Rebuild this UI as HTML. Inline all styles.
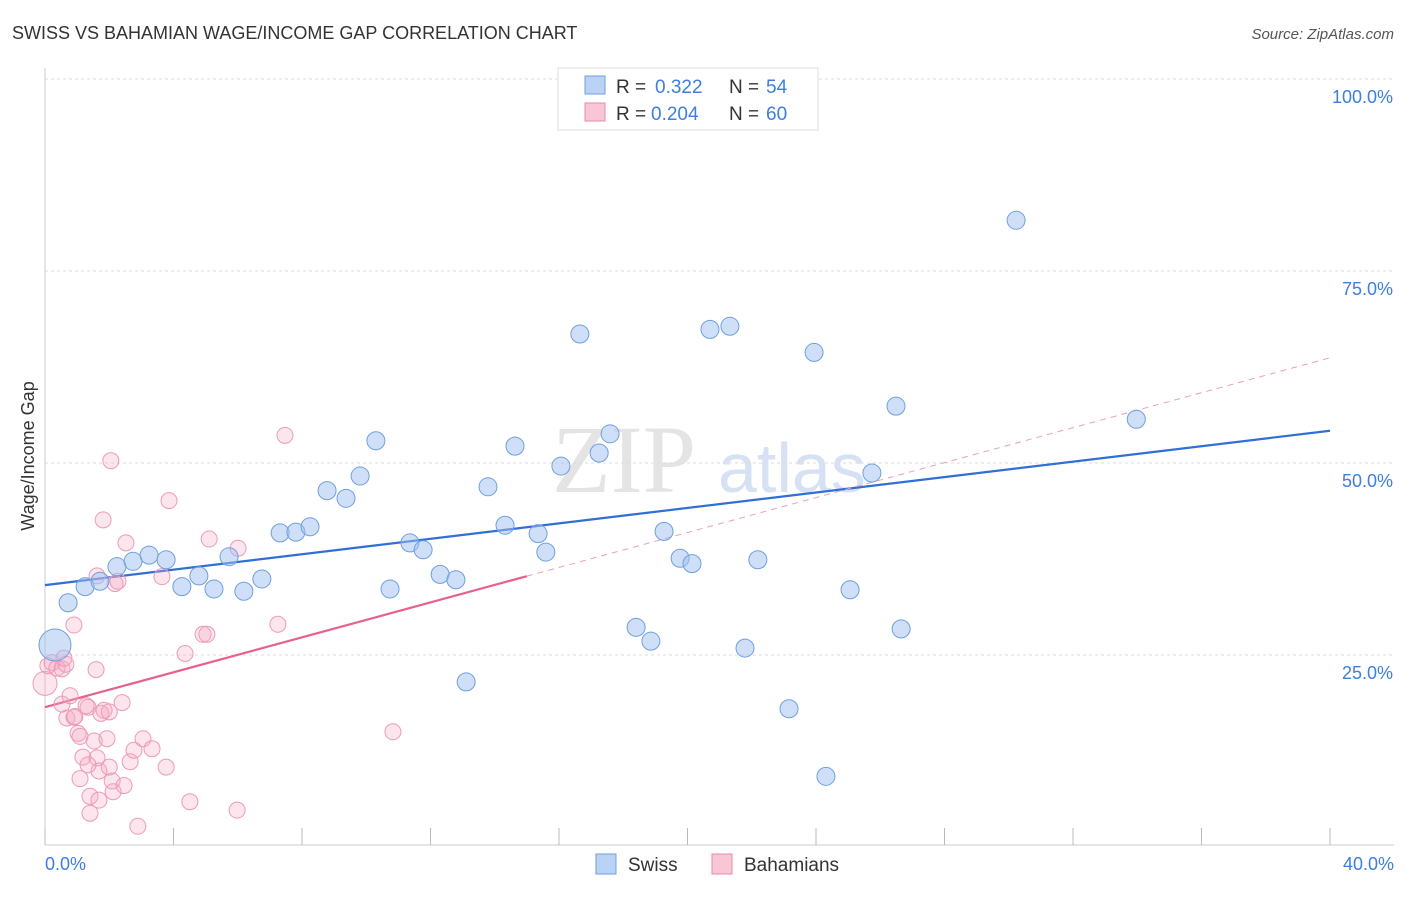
<!DOCTYPE html>
<html><head><meta charset="utf-8"><style>
body{margin:0;background:#fff;font-family:"Liberation Sans",sans-serif}
</style></head><body>
<svg width="1406" height="892" xmlns="http://www.w3.org/2000/svg" style="font-family:'Liberation Sans',sans-serif">
<text x="12" y="39" font-size="18" fill="#333">SWISS VS BAHAMIAN WAGE/INCOME GAP CORRELATION CHART</text>
<text x="1394" y="39" font-size="15" fill="#555" font-style="italic" text-anchor="end">Source: ZipAtlas.com</text>
<text x="552" y="492" font-size="96" fill="#e4e4e4" font-family="Liberation Serif,serif">ZIP</text>
<text x="718" y="492" font-size="70" fill="#d6e2f3">atlas</text>
<g id="grid"></g>
<g id="axes"></g>
<text transform="translate(34,456) rotate(-90)" font-size="18" fill="#333" text-anchor="middle">Wage/Income Gap</text>
<g id="lines"></g>
<g id="pts"></g>
<g>
<rect x="558" y="68" width="260" height="62" fill="#fff" stroke="#ddd"/>
<rect x="585" y="76" width="20" height="18" fill="#b9d2f5" stroke="#6f9fe0"/>
<rect x="585" y="103" width="20" height="18" fill="#f9c6d6" stroke="#e88aaa"/>
<text x="616" y="93" font-size="19" fill="#333">R =</text>
<text x="655" y="93" font-size="19" fill="#3d7ee0">0.322</text>
<text x="729" y="93" font-size="19" fill="#333">N =</text>
<text x="766" y="93" font-size="19" fill="#3d7ee0">54</text>
<text x="616" y="120" font-size="19" fill="#333">R =</text>
<text x="651" y="120" font-size="19" fill="#3d7ee0">0.204</text>
<text x="729" y="120" font-size="19" fill="#333">N =</text>
<text x="766" y="120" font-size="19" fill="#3d7ee0">60</text>
</g>
<g>
<rect x="596" y="854" width="20" height="20" fill="#b9d2f5" stroke="#6f9fe0"/>
<text x="628" y="871" font-size="19" fill="#333">Swiss</text>
<rect x="712" y="854" width="20" height="20" fill="#f9c6d6" stroke="#e88aaa"/>
<text x="744" y="871" font-size="19" fill="#333">Bahamians</text>
</g>
</svg>
<script>
const yTicks=[25,50,75,100];
const yTickLabels=["25.0%","50.0%","75.0%","100.0%"];
const xTicks=[0,4,8,12,16,20,24,28,32,36,40];
const swissX=[0.31,0.72,1.25,1.71,2.24,2.74,3.24,3.77,4.26,4.79,5.26,5.73,6.19,6.75,7.32,7.81,8.25,8.78,9.37,9.81,10.3,10.74,11.36,11.77,12.3,12.79,13.11,13.79,14.32,14.63,15.35,15.59,16.06,16.65,17.25,17.59,18.4,18.86,19.27,19.77,20.14,20.7,21.32,21.79,22.19,23.16,23.94,24.31,25.06,25.74,26.49,26.65,30.23,33.97];
const swissY=[26.3,31.8,33.9,34.6,36.5,37.2,38.0,37.4,33.9,35.3,33.6,37.8,33.3,34.9,40.9,41.0,41.7,46.4,45.4,48.3,52.9,33.6,39.6,38.7,35.5,34.8,21.5,46.9,41.9,52.2,40.8,38.4,49.6,66.8,51.3,53.8,28.6,26.8,41.1,37.6,36.9,67.4,67.8,25.9,37.4,18.0,64.4,9.2,33.5,48.7,57.4,28.4,81.6,55.7];
const bahX=[0,0.09,0.22,0.37,0.53,0.65,0.59,0.9,0.53,0.78,0.68,0.9,1.03,1.09,1.18,1.09,1.4,1.4,1.34,1.53,1.62,1.68,1.74,1.84,1.93,2.0,2.09,2.12,2.0,2.18,2.27,1.62,1.81,2.05,2.52,2.4,2.65,2.77,2.89,3.05,3.33,3.64,3.77,3.86,4.36,4.51,4.92,5.04,5.11,5.98,6.01,7.25,7.47,10.83,2.46,1.59,0.93,1.28,1.34,1.68];
const bahY=[21.3,23.6,24.0,23.3,23.2,23.8,24.6,28.9,18.6,19.7,16.8,16.9,14.8,14.4,11.7,8.9,6.6,4.4,18.2,13.8,11.6,9.9,17.4,17.8,14.1,10.4,8.6,7.2,17.6,34.3,34.6,35.3,42.6,50.3,39.6,18.8,11.1,12.6,2.7,14.1,12.8,35.2,10.4,45.1,25.2,5.9,27.7,27.7,40.1,4.8,38.9,29.0,53.6,15.0,8.0,23.1,17.0,18.4,10.7,6.1];
const swissTrend=[34.1,54.2];
const bahTrend=[18.2,63.7];
const bahSolidEnd=15;
const X=v=>45+v*32.125, Y=v=>847-v*7.68;
const NS="http://www.w3.org/2000/svg";
function mk(t,a,p){const e=document.createElementNS(NS,t);for(const k in a)e.setAttribute(k,a[k]);p.appendChild(e);return e;}
const grid=document.getElementById('grid'),axes=document.getElementById('axes'),lines=document.getElementById('lines'),pts=document.getElementById('pts');
yTicks.forEach((t,i)=>{
 const g=mk('line',{x1:45,x2:1394,y1:Y(t),y2:Y(t),stroke:'#ddd','stroke-dasharray':'3,3'},grid);
 
 
 const l=mk('text',{x:1393,y:Y(t)+24,'font-size':18,fill:'#3d7ee0','text-anchor':'end'},axes);l.textContent=yTickLabels[i];
 
 
});
const al=mk('line',{x1:45,x2:45,y1:68,y2:845,stroke:'#ccc'},axes);


const bl=mk('line',{x1:45,x2:1394,y1:845,y2:845,stroke:'#ccc'},axes);


xTicks.forEach(t=>{const e=mk('line',{x1:X(t),x2:X(t),y1:828,y2:845,stroke:'#bbb'},axes);
 
 });
const x0=mk('text',{x:45,y:870,'font-size':18,fill:'#3d7ee0'},axes);x0.textContent='0.0%';


const x1=mk('text',{x:1394,y:870,'font-size':18,fill:'#3d7ee0','text-anchor':'end'},axes);x1.textContent='40.0%';


const bAt=x=>bahTrend[0]+(bahTrend[1]-bahTrend[0])*x/40;
const sl=mk('line',{x1:X(0),y1:Y(swissTrend[0]),x2:X(40),y2:Y(swissTrend[1]),stroke:'#2f6fd6','stroke-width':2.2},lines);


const pd=mk('line',{x1:X(bahSolidEnd),y1:Y(bAt(bahSolidEnd)),x2:X(40),y2:Y(bahTrend[1]),stroke:'#e8a0b8','stroke-width':1,'stroke-dasharray':'6,5'},lines);


const pl=mk('line',{x1:X(0),y1:Y(bahTrend[0]),x2:X(bahSolidEnd),y2:Y(bAt(bahSolidEnd)),stroke:'#e8608d','stroke-width':2.2},lines);


bahX.forEach((x,i)=>{const c=mk('circle',{cx:X(x),cy:Y(bahY[i]),r:i==0?12:8,fill:'rgba(246,170,196,0.3)',stroke:'#ec9bb6','stroke-width':1},pts);
 
 });
swissX.forEach((x,i)=>{const c=mk('circle',{cx:X(x),cy:Y(swissY[i]),r:i==0?16:9,fill:'rgba(160,192,240,0.5)',stroke:'#6f9fe0','stroke-width':1},pts);
 
 });
</script>
</body></html>
